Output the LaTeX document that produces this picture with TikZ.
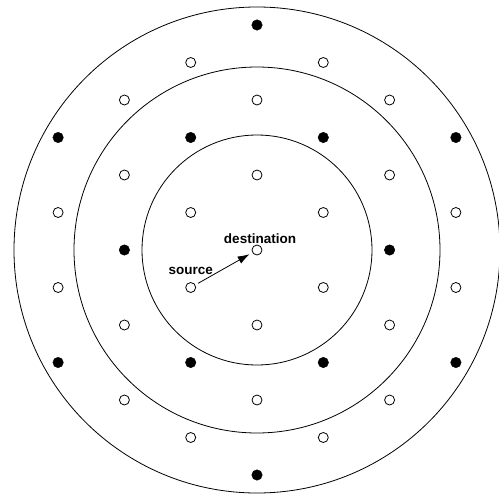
\documentclass[tikz,border=0pt]{standalone}
\usepackage{fontspec}
\setmainfont{Liberation Sans}
\usetikzlibrary{arrows.meta, positioning}

\begin{document}
\begin{tikzpicture}[
    x=1pt, y=-1pt,
    ring/.style={draw=black, line width=0.8pt},
    emptydot/.style={circle, draw=black, fill=white, line width=0.8pt, inner sep=0pt, minimum size=10pt},
    fulldot/.style={circle, draw=black, fill=black, inner sep=0pt, minimum size=10.5pt},
    tag/.style={font=\fontsize{13.5}{14}\selectfont\bfseries, inner sep=0pt},
    arrow/.style={-{Latex[length=12pt, width=8pt]}, line width=0.8pt, shorten <=3pt, shorten >=3pt}
]
\useasboundingbox (0,0) rectangle (499,498);

% Rings round the destination
\coordinate (centre) at (257,250);
\draw[ring] (centre) circle[radius=243pt];
\draw[ring] (centre) circle[radius=183pt];
\draw[ring] (centre) circle[radius=115pt];

% Lattice of nodes
\foreach \i/\j in {1/1, 1/-1, -1/-1, 0/2, 0/-2, 0/4, 0/-4, 2/2, 2/-2, -2/2, -2/-2,
                   3/1, 3/-1, -3/1, -3/-1, 2/4, 2/-4, -2/4, -2/-4, 1/5, 1/-5, -1/5, -1/-5}
    \node[emptydot] (e\i\j) at ({257+66.3*\i},{250+37.5*\j}) {};
\foreach \i/\j in {2/0, -2/0, 1/3, 1/-3, -1/3, -1/-3, 3/3, 3/-3, -3/3, -3/-3, 0/6, 0/-6}
    \node[fulldot] (f\i\j) at ({257+66.3*\i},{250+37.5*\j}) {};

% Source and destination
\node[emptydot] (dst) at (centre) {};
\node[emptydot] (src) at ({257-66.3},{250+37.5}) {};
\node[tag, above=7pt of src] (srclabel) {source};
\node[tag, above=0.5pt of dst, xshift=3pt] (dstlabel) {destination};

\draw[arrow] (src) -- (dst);

\end{tikzpicture}
\end{document}
